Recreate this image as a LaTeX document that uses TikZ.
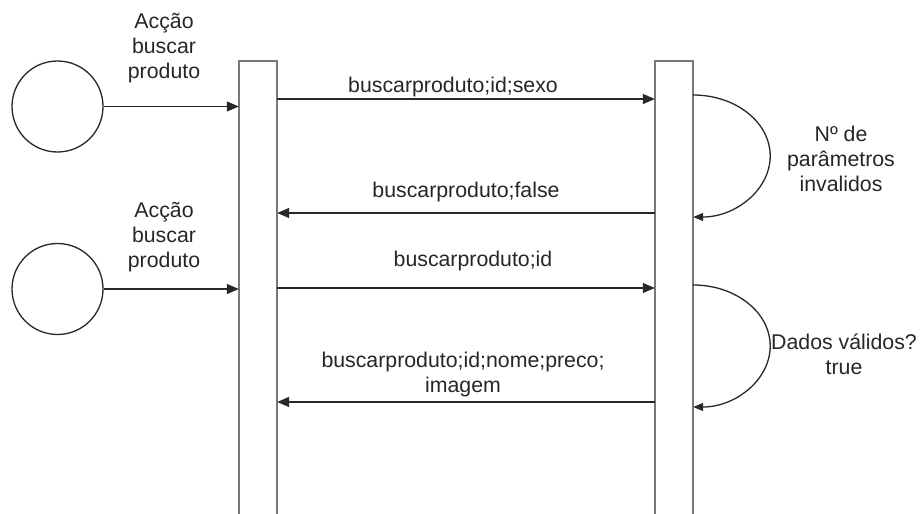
\documentclass[tikz,border=0pt]{standalone}
\usepackage{fontspec}
\setmainfont{Liberation Sans}
\usetikzlibrary{arrows.meta,positioning}
\definecolor{lifeln}{RGB}{120,120,120}
\definecolor{inkline}{RGB}{40,40,40}
\begin{document}
\begin{tikzpicture}[x=1pt,y=-1pt,
  actor/.style={draw=inkline,line width=1.3pt,circle,minimum size=91pt,inner sep=0pt},
  lane/.style={draw=none,rectangle,minimum width=38pt,minimum height=453pt,inner sep=0pt,anchor=north},
  laneline/.style={draw=lifeln,line width=1.6pt},
  msg/.style={draw=inkline,line width=1.3pt,-{Triangle[length=12pt,width=10pt]}},
  loopmsg/.style={msg,-{Triangle[length=10pt,width=8pt]}},
  lbl/.style={font=\fontsize{21.3}{25}\selectfont,text=black!85,align=center,inner sep=0pt}
]
\useasboundingbox (0,0) rectangle (921,514);

% actors and lifelines
\node[actor] (c1) at (57.5,106.5) {};
\node[actor] (c2) at (57.5,289) {};
\node[lane] (L) at (258,61) {};
\node[lane] (R) at (674,61) {};
\draw[laneline] (L.south west) -- (L.north west) -- (L.north east) -- (L.south east);
\draw[laneline] (R.south west) -- (R.north west) -- (R.north east) -- (R.south east);

% actions entering the first lifeline
\draw[msg] (c1.east) -- (c1.east -| L.west);
\draw[msg] (c2.east) -- (c2.east -| L.west);
\node[lbl] (a1) at (164,48) {Acção\\buscar\\produto};
\node[lbl] (a2) at (164,237) {Acção\\buscar\\produto};

% messages between lifelines
\coordinate (m1) at (0,99);
\coordinate (m2) at (0,213);
\coordinate (m3) at (0,288);
\coordinate (m4) at (0,402);
\draw[msg] (m1 -| L.east) -- (m1 -| R.west);
\draw[msg] (m2 -| R.west) -- (m2 -| L.east);
\draw[msg] (m3 -| L.east) -- (m3 -| R.west);
\draw[msg] (m4 -| R.west) -- (m4 -| L.east);
\node[lbl] (t1) at (453,87) {buscarproduto;id;sexo};
\node[lbl] (t2) at (466,192) {buscarproduto;false};
\node[lbl] (t3) at (473,261) {buscarproduto;id};
\node[lbl] (t4) at (463,374.5) {buscarproduto;id;nome;preco;\\imagem};

% self checks on the second lifeline
\coordinate (s1) at (0,95);
\coordinate (s2) at (0,285);
\draw[loopmsg] (s1 -| R.east) arc[start angle=-90,end angle=90,x radius=77,y radius=61];
\draw[loopmsg] (s2 -| R.east) arc[start angle=-90,end angle=90,x radius=77,y radius=61];
\node[lbl] (n1) at (841,159) {Nº de\\parâmetros\\invalidos};
\node[lbl] (n2) at (844,354.5) {Dados válidos?\\true};
\end{tikzpicture}
\end{document}
